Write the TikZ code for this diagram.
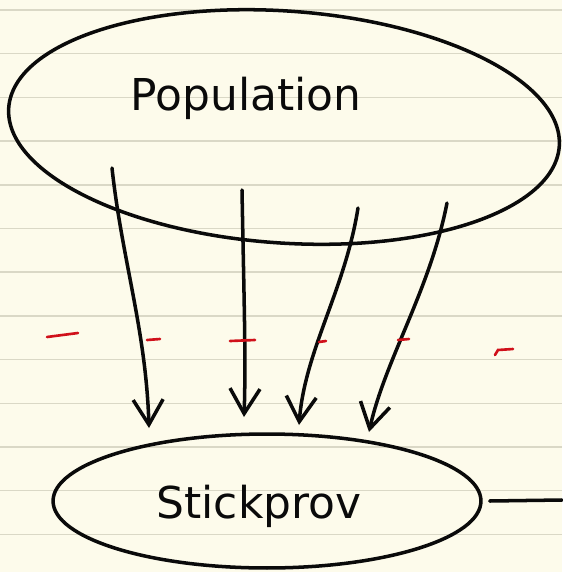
\documentclass[tikz,border=0pt]{standalone}
\usepackage{fontspec}
\setmainfont{DejaVu Sans}
\usetikzlibrary{arrows.meta,shapes.geometric,positioning}
\definecolor{paper}{HTML}{FDFBEB}
\definecolor{ruling}{HTML}{DAD8C6}
\definecolor{pen}{HTML}{0A0A0A}
\definecolor{redpen}{HTML}{D0101A}

\begin{document}
\begin{tikzpicture}[x=0.02cm, y=-0.02cm, >={Straight Barb[length=5mm,width=6mm]},
  blob/.style={draw=pen, ellipse, line width=2pt, inner sep=0pt},
  hand/.style={font=\fontsize{25}{30}\selectfont, text=pen},
  stroke/.style={draw=pen, line width=2pt, line cap=round, line join=round},
  redtick/.style={draw=redpen, line width=1.5pt, line cap=round},
  ruling line/.style={draw=ruling, line width=0.9pt}]
  % Paper
  \fill[paper] (0,0) rectangle (562,572);
  \useasboundingbox (0,0) rectangle (562,572);
  \foreach \k in {0,...,12}
    \draw[ruling line] (0,10+43.7*\k) -- (562,10+43.7*\k);

  % Population
  \node[blob, minimum width=11.04cm, minimum height=4.64cm, rotate=-4] (pop) at (284,127) {};
  \node[hand, anchor=base] (poptext) at (246,110) {Population};

  % Sample
  \node[blob, minimum width=8.56cm, minimum height=2.68cm] (sample) at (267,501) {};
  \node[hand, anchor=base] (samptext) at (259,518) {Stickprov};

  % Draws from the population
  \coordinate (a1) at (112,168);
  \coordinate (b1) at (149,428);
  \coordinate (a2) at (242,190);
  \coordinate (b2) at (244,417);
  \coordinate (a3) at (358,208);
  \coordinate (b3) at (299,425);
  \coordinate (a4) at (447,203);
  \coordinate (b4) at (369,432);
  \draw[stroke, ->] (a1) .. controls (122,260) and (146,330) .. (b1);
  \draw[stroke, ->] (a2) .. controls (244,300) and (246,360) .. (b2);
  \draw[stroke, ->] (a3) .. controls (345,290) and (305,350) .. (b3);
  \draw[stroke, ->] (a4) .. controls (430,290) and (385,360) .. (b4);

  % Red dashes
  \draw[redtick] (47,337) -- (78,333);
  \draw[redtick] (147,340) -- (160,339);
  \draw[redtick] (230,341) -- (255,340);
  \draw[redtick] (319,342) -- (326,341);
  \draw[redtick] (398,340) -- (409,339);
  \draw[redtick] (495,355) -- (498,350) -- (513,349);

  % Line to the right
  \coordinate (tail) at (562,500);
  \draw[stroke] ([xshift=4pt]sample.east) -- (tail);
\end{tikzpicture}
\end{document}
